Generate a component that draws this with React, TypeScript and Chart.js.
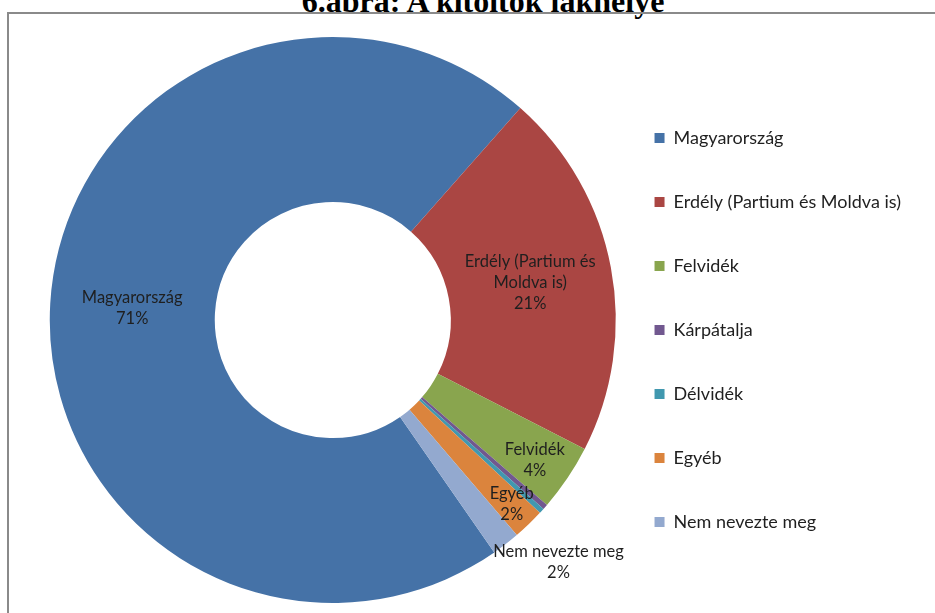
import React, { useEffect, useRef } from "react";
import { Chart, registerables } from "chart.js";

Chart.register(...registerables);

const TITLE = "6.ábra: A kitöltők lakhelye";
const CATEGORIES = [
  "Magyarország",
  "Erdély (Partium és Moldva is)",
  "Felvidék",
  "Kárpátalja",
  "Délvidék",
  "Egyéb",
  "Nem nevezte meg",
];
const VALUES = [71.2, 21.0, 3.8, 0.3, 0.3, 1.8, 1.6];
const COLORS = ["#4572A7", "#AA4643", "#89A54E", "#71588F", "#4198AF", "#DB843D", "#93A9CF"];

// label placement: fraction of outer radius, and angular shift in degrees
const LABEL_RADIUS = [0.71, 0.71, 0.869, 0, 0, 0.907, 1.17];
const LABEL_ANGLE_SHIFT = [0, 0, 0.8, 0, 0, -0.4, -5.3];

const LABEL_FONT = "16.5px Lato";
const TEXT_COLOR = "#1f1f1f";

function wrap(ctx: CanvasRenderingContext2D, text: string, maxW: number): string[] {
  const words = text.split(" ");
  const lines: string[] = [];
  let cur = "";
  for (const w of words) {
    const test = cur ? cur + " " + w : w;
    if (cur && ctx.measureText(test).width > maxW) {
      lines.push(cur);
      cur = w;
    } else {
      cur = test;
    }
  }
  if (cur) lines.push(cur);
  return lines;
}

const sliceLabels = {
  id: "sliceLabels",
  afterDatasetsDraw(chart: any) {
    const ctx: CanvasRenderingContext2D = chart.ctx;
    const meta = chart.getDatasetMeta(0);
    const data = chart.data.datasets[0].data as number[];
    const total = data.reduce((a, b) => a + b, 0);
    ctx.save();
    ctx.font = LABEL_FONT;
    ctx.fillStyle = TEXT_COLOR;
    ctx.textAlign = "center";
    ctx.textBaseline = "middle";
    meta.data.forEach((arc: any, i: number) => {
      const pct = Math.round((data[i] / total) * 100);
      if (pct < 1) return;
      const p = arc.getProps(["x", "y", "startAngle", "endAngle", "outerRadius"], true);
      const a = (p.startAngle + p.endAngle) / 2 + (LABEL_ANGLE_SHIFT[i] * Math.PI) / 180;
      const r = p.outerRadius * LABEL_RADIUS[i];
      const cx = p.x + r * Math.cos(a);
      const cy = p.y + r * Math.sin(a);
      const lines = wrap(ctx, String(chart.data.labels[i]), 140).concat(pct + "%");
      const lh = 21;
      lines.forEach((t, k) => ctx.fillText(t, cx, cy + (k - (lines.length - 1) / 2) * lh));
    });
    ctx.restore();
  },
};

export default function App() {
  const ref = useRef<HTMLCanvasElement>(null);
  useEffect(() => {
    if (!ref.current) return;
    const chart = new Chart(ref.current, {
      type: "doughnut",
      data: {
        labels: CATEGORIES,
        datasets: [
          {
            data: VALUES,
            backgroundColor: COLORS,
            borderWidth: 0,
          },
        ],
      },
      options: {
        responsive: false,
        animation: false,
        rotation: 145.2,
        cutout: "41.7%",
        radius: 283,
        layout: { padding: { left: 57, right: 24, top: 27, bottom: 0 } },
        plugins: {
          tooltip: { enabled: false },
          legend: {
            position: "right",
            align: "center",
            title: { display: true, text: "", font: { size: 10 }, padding: 4 },
            labels: {
              boxWidth: 10,
              boxHeight: 10,
              padding: 46,
              color: TEXT_COLOR,
              font: { family: "Lato", size: 18 },
            },
          },
        },
      } as any,
      plugins: [sliceLabels],
    });
    return () => chart.destroy();
  }, []);

  return (
    <div
      style={{
        position: "fixed",
        left: 0,
        top: 0,
        width: 935,
        height: 613,
        overflow: "hidden",
        background: "#fff",
      }}
    >
      <div
        style={{
          position: "absolute",
          left: 0,
          width: 966,
          top: -14,
          lineHeight: "30px",
          textAlign: "center",
          fontFamily: "'Liberation Serif', 'Times New Roman', serif",
          fontWeight: "bold",
          fontSize: 32,
          color: "#000",
          whiteSpace: "nowrap",
        }}
      >
        {TITLE}
      </div>
      <div
        style={{
          position: "absolute",
          left: 7,
          top: 12,
          width: 1000,
          height: 700,
          border: "2px solid #8a8a8a",
        }}
      />
      <canvas
        ref={ref}
        width={935}
        height={613}
        style={{ position: "absolute", left: 0, top: 0, width: 935, height: 613 }}
      />
    </div>
  );
}
